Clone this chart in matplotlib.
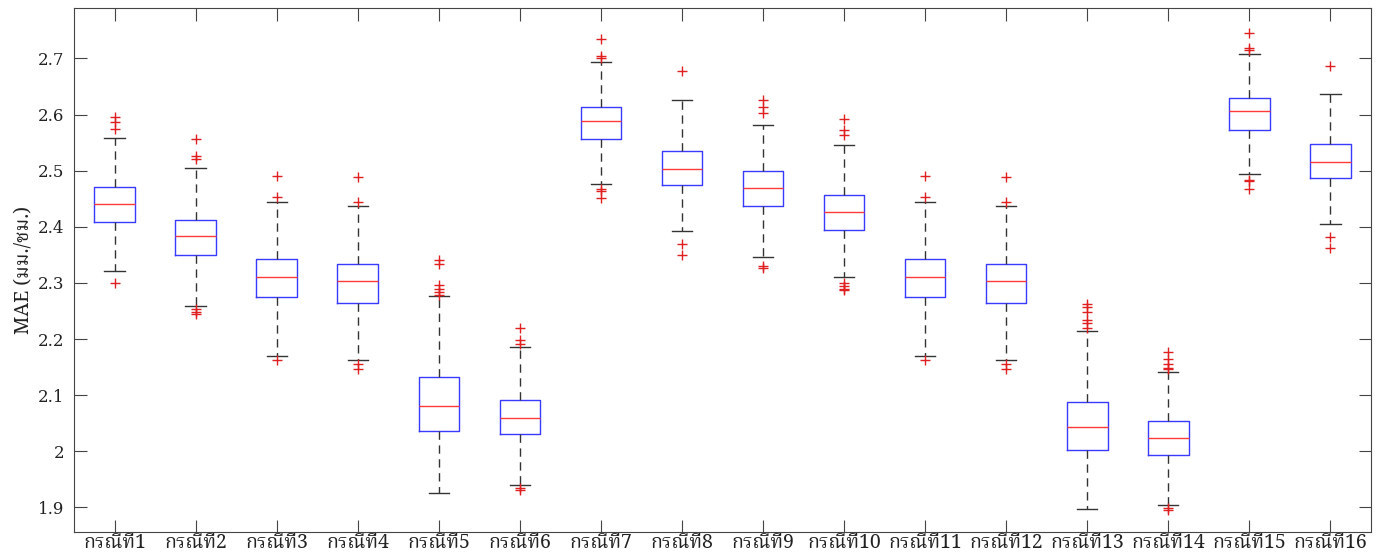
import matplotlib
matplotlib.use("Agg")
import matplotlib.pyplot as plt

plt.rcParams['font.family'] = ['Noto Serif Thai', 'DejaVu Serif']

cases = ["กรณีที่%d" % i for i in range(1, 17)]

# box statistics (MAE, mm/h)
med = [2.441, 2.383, 2.311, 2.304, 2.081, 2.060, 2.589, 2.503,
       2.469, 2.426, 2.311, 2.304, 2.043, 2.023, 2.606, 2.515]
q1 = [2.409, 2.349, 2.274, 2.265, 2.036, 2.030, 2.557, 2.474,
      2.437, 2.394, 2.274, 2.265, 2.002, 1.994, 2.573, 2.487]
q3 = [2.471, 2.413, 2.342, 2.334, 2.132, 2.092, 2.613, 2.535,
      2.500, 2.456, 2.342, 2.334, 2.087, 2.054, 2.629, 2.548]
whis_lo = [2.322, 2.259, 2.169, 2.163, 1.925, 1.940, 2.476, 2.392,
           2.346, 2.310, 2.169, 2.163, 1.897, 1.905, 2.494, 2.405]
whis_hi = [2.558, 2.505, 2.444, 2.437, 2.276, 2.185, 2.693, 2.626,
           2.582, 2.545, 2.444, 2.437, 2.215, 2.142, 2.708, 2.636]
outliers = [
    [2.596, 2.587, 2.575, 2.299],
    [2.556, 2.527, 2.520, 2.253, 2.248, 2.244],
    [2.491, 2.453, 2.162],
    [2.488, 2.444, 2.155, 2.147],
    [2.340, 2.334, 2.297, 2.289, 2.284, 2.279],
    [2.219, 2.198, 2.191, 1.935, 1.930],
    [2.734, 2.704, 2.701, 2.468, 2.463, 2.451],
    [2.677, 2.370, 2.350],
    [2.626, 2.613, 2.602, 2.330, 2.327],
    [2.592, 2.572, 2.563, 2.299, 2.295, 2.290, 2.287],
    [2.491, 2.453, 2.162],
    [2.488, 2.444, 2.155, 2.147],
    [2.263, 2.257, 2.248, 2.234, 2.229, 2.219],
    [2.176, 2.165, 2.156, 2.149, 2.146, 1.898, 1.895],
    [2.746, 2.718, 2.715, 2.484, 2.481, 2.467],
    [2.686, 2.381, 2.362],
]

stats = []
for i in range(len(cases)):
    stats.append(dict(med=med[i], q1=q1[i], q3=q3[i], whislo=whis_lo[i],
                      whishi=whis_hi[i], fliers=outliers[i], label=cases[i]))

fig = plt.figure(figsize=(13.83, 5.59), dpi=100)
ax = fig.add_axes([74 / 1383, 1 - 532 / 559, (1371 - 74) / 1383, (532 - 8) / 559])

ax.bxp(stats, widths=0.5, capwidths=0.25,
       boxprops=dict(color='#3a3aff', linewidth=1.0),
       medianprops=dict(color='#ff3a3a', linewidth=1.0),
       whiskerprops=dict(color='#333333', linestyle=(0, (6, 4)), linewidth=1.0),
       capprops=dict(color='#333333', linewidth=1.0),
       flierprops=dict(marker='+', markeredgecolor='#e02020', markersize=7,
                       markeredgewidth=1.0, linestyle='none'))

ax.set_xlim(0.5, 16.5)
ax.set_ylim(1.856, 2.79)
ax.set_yticks([1.9, 2.0, 2.1, 2.2, 2.3, 2.4, 2.5, 2.6, 2.7])
ax.set_yticklabels(['1.9', '2', '2.1', '2.2', '2.3', '2.4', '2.5', '2.6', '2.7'])
ax.set_xticks(range(1, 17))
ax.set_xticklabels(cases)
ax.tick_params(direction='in', top=True, right=True, length=9, width=0.8,
               color='#444444', labelcolor='#222222')
ax.tick_params(axis='y', labelsize=12, pad=7)
ax.tick_params(axis='x', labelsize=14, pad=1)
for lbl in ax.get_yticklabels():
    lbl.set_fontfamily(['DejaVu Serif'])
ax.set_ylabel('MAE (มม./ชม.)', fontsize=14, color='#222222', labelpad=3)
for s in ax.spines.values():
    s.set_color('#444444')
    s.set_linewidth(0.8)

fig.savefig('out.png', dpi=100)
